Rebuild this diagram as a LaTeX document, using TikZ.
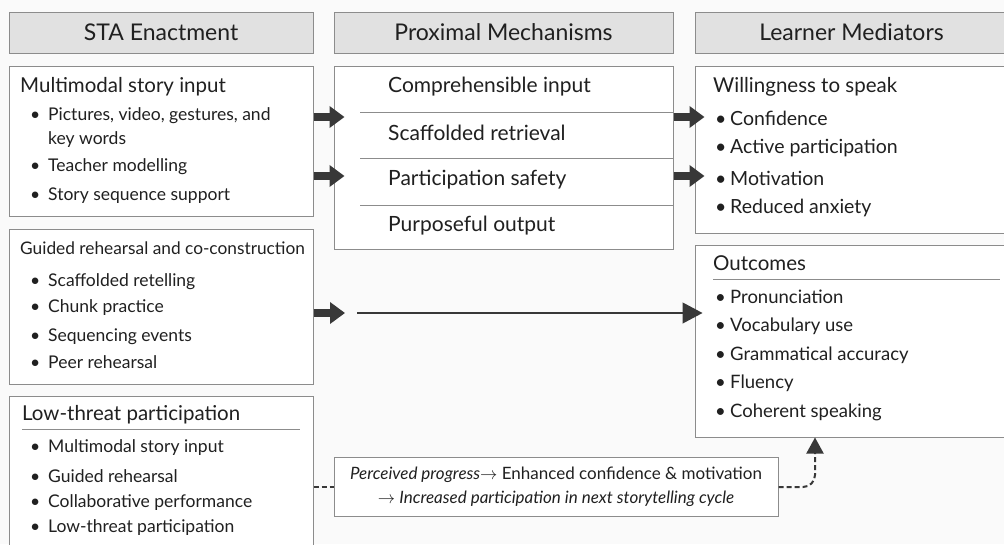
\documentclass[tikz,border=0pt]{standalone}
\usepackage{fontspec}
\setmainfont{Lato}
\usetikzlibrary{arrows.meta}
\definecolor{boxline}{HTML}{8C8C8C}
\definecolor{headfill}{HTML}{E1E1E1}
\definecolor{inkgray}{HTML}{202020}
\definecolor{arrowgray}{HTML}{383838}
\newcommand{\bul}[1]{\makebox[#1][l]{\textbullet}}

\begin{document}
\begin{tikzpicture}[x=1pt, y=-1pt]
\tikzstyle{headStyle}=[draw=boxline, fill=headfill, line width=1pt, minimum height=41pt, inner sep=0pt, font=\fontsize{23}{26}\selectfont, text=inkgray]
\tikzstyle{boxStyle}=[draw=boxline, fill=white, line width=1pt, inner sep=0pt]
\tikzstyle{titleStyle}=[anchor=west, inner sep=0pt, font=\fontsize{20.5}{24}\selectfont, text=inkgray]
\tikzstyle{itemStyle}=[anchor=west, inner sep=0pt, font=\fontsize{17.5}{20}\selectfont, text=inkgray]
\tikzstyle{mechStyle}=[anchor=west, inner sep=0pt, font=\fontsize{21}{24}\selectfont, text=inkgray]
\tikzstyle{ruleStyle}=[draw=boxline, line width=0.9pt]
\tikzstyle{fatArrow}=[draw=arrowgray, line width=8pt, -{Triangle[length=15pt, width=21pt]}]
\tikzstyle{thinArrow}=[draw=arrowgray, line width=1.2pt, -{Triangle[length=20pt, width=21pt]}]
\tikzstyle{dashLine}=[draw=arrowgray, line width=2pt, dash pattern=on 5pt off 3pt]
\tikzstyle{loopArrow}=[dashLine, rounded corners=12pt, -{Triangle[length=16pt, width=17pt]}]
\useasboundingbox[fill=white!98!black] (0,0) rectangle (1004,544);
% column headers
\node[headStyle, minimum width=304pt] (hSTA) at (161,32.5) {STA Enactment};
\node[headStyle, minimum width=339pt] (hProx) at (503.5,32.5) {Proximal Mechanisms};
\node[headStyle, minimum width=313pt] (hMed) at (851.5,32.5) {Learner Mediators};
% boxes
\node[boxStyle, minimum width=304pt, minimum height=150pt] (multimodal) at (161,141) {};
\node[boxStyle, minimum width=304pt, minimum height=155pt] (guided) at (161,306.5) {};
\node[boxStyle, minimum width=304pt, minimum height=156pt] (lowthreat) at (161,474) {};
\node[boxStyle, minimum width=339pt, minimum height=183pt] (proximal) at (503.5,157.5) {};
\node[boxStyle, minimum width=313pt, minimum height=167pt] (willing) at (851.5,149.5) {};
\node[boxStyle, minimum width=313pt, minimum height=192pt] (outcomes) at (851.5,341) {};
\node[boxStyle, minimum width=444pt, minimum height=59pt, align=center, font=\fontsize{17}{24}\selectfont, text=inkgray] (progress) at (556,487)
  {\textit{Perceived progress}$\rightarrow$ Enhanced confidence \& motivation\\ $\rightarrow$ \textit{Increased participation in next storytelling cycle}};
% multimodal story input
\node[titleStyle] (mmTitle) at (20,87) {Multimodal story input};
\node[itemStyle] (mm1) at (30,116) {\bul{18pt}Pictures, video, gestures, and};
\node[itemStyle] (mm1b) at (48,140) {key words};
\node[itemStyle] (mm2) at (30,167) {\bul{18pt}Teacher modelling};
\node[itemStyle] (mm3) at (30,196) {\bul{18pt}Story sequence support};
% guided rehearsal
\node[titleStyle, font=\fontsize{17.3}{20}\selectfont] (grTitle) at (20,248) {Guided rehearsal and co-construction};
\node[itemStyle] (gr1) at (30,282) {\bul{18pt}Scaffolded retelling};
\node[itemStyle] (gr2) at (30,308) {\bul{18pt}Chunk practice};
\node[itemStyle] (gr3) at (30,337) {\bul{18pt}Sequencing events};
\node[itemStyle] (gr4) at (30,362) {\bul{18pt}Peer rehearsal};
% low-threat participation
\node[titleStyle] (ltTitle) at (22,415) {Low-threat participation};
\draw[ruleStyle] (22,429) -- (300,429);
\node[itemStyle] (lt1) at (30,448) {\bul{18pt}Multimodal story input};
\node[itemStyle] (lt2) at (30,476) {\bul{18pt}Guided rehearsal};
\node[itemStyle] (lt3) at (30,503) {\bul{18pt}Collaborative performance};
\node[itemStyle] (lt4) at (30,528) {\bul{18pt}Low-threat participation};
% proximal mechanisms
\node[mechStyle] (pm1) at (388,87) {Comprehensible input};
\node[mechStyle] (pm2) at (388,133) {Scaffolded retrieval};
\node[mechStyle] (pm3) at (388,180) {Participation safety};
\node[mechStyle] (pm4) at (388,226) {Purposeful output};
\draw[ruleStyle] (360,112) -- (673,112);
\draw[ruleStyle] (360,158) -- (673,158);
\draw[ruleStyle] (360,205) -- (673,205);
% willingness to speak
\node[titleStyle] (wsTitle) at (713,87) {Willingness to speak};
\node[itemStyle, font=\fontsize{19.5}{22}\selectfont] (ws1) at (715,118) {\bul{15pt}Confidence};
\node[itemStyle, font=\fontsize{19.5}{22}\selectfont] (ws2) at (715,148) {\bul{15pt}Active participation};
\node[itemStyle, font=\fontsize{19.5}{22}\selectfont] (ws3) at (715,178) {\bul{15pt}Motivation};
\node[itemStyle, font=\fontsize{19.5}{22}\selectfont] (ws4) at (715,208) {\bul{15pt}Reduced anxiety};
% outcomes
\node[titleStyle] (ocTitle) at (713,263) {Outcomes};
\draw[ruleStyle] (713,279) -- (1000,279);
\node[itemStyle, font=\fontsize{18.5}{22}\selectfont] (oc1) at (715,297) {\bul{15pt}Pronunciation};
\node[itemStyle, font=\fontsize{18.5}{22}\selectfont] (oc2) at (715,326) {\bul{15pt}Vocabulary use};
\node[itemStyle, font=\fontsize{18.5}{22}\selectfont] (oc3) at (715,355) {\bul{15pt}Grammatical accuracy};
\node[itemStyle, font=\fontsize{18.5}{22}\selectfont] (oc4) at (715,383) {\bul{15pt}Fluency};
\node[itemStyle, font=\fontsize{18.5}{22}\selectfont] (oc5) at (715,412) {\bul{15pt}Coherent speaking};
% arrow rows
\coordinate (rowA) at (0,117);
\coordinate (rowB) at (0,176);
\coordinate (rowC) at (0,313);
\coordinate (gStub) at (345,313);
\coordinate (gLine) at (357,313);
\coordinate (loopX) at (815,0);
\draw[fatArrow, shorten >=-11pt] (multimodal.east |- rowA) -- (proximal.west |- rowA);
\draw[fatArrow, shorten >=-11pt] (multimodal.east |- rowB) -- (proximal.west |- rowB);
\draw[fatArrow, shorten >=-10pt] (proximal.east |- rowA) -- (willing.west |- rowA);
\draw[fatArrow, shorten >=-10pt] (proximal.east |- rowB) -- (willing.west |- rowB);
\draw[fatArrow] (guided.east |- rowC) -- (gStub);
\draw[thinArrow, shorten >=-8pt] (gLine) -- (outcomes.west |- rowC);
\draw[dashLine] (lowthreat.east |- progress.west) -- (progress.west);
\draw[loopArrow] (progress.east) -| (outcomes.south -| loopX);
\end{tikzpicture}
\end{document}
